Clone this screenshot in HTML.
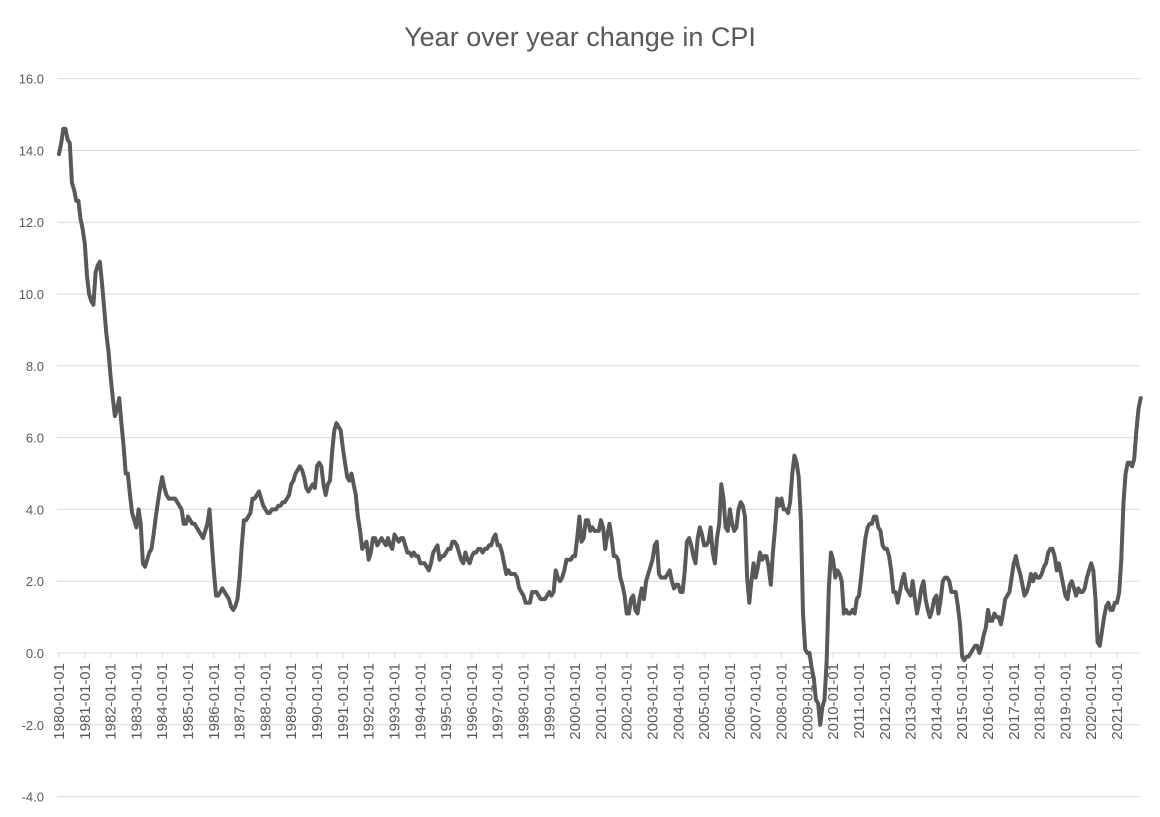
<!DOCTYPE html>
<html><head><meta charset="utf-8"><style>
body{margin:0;background:#fff;}
svg{display:block;font-family:"Liberation Sans",sans-serif;}
</style></head><body>
<svg id="chart" width="1160" height="817">
<text x="580" y="46" text-anchor="middle" font-size="27" fill="#595959">Year over year change in CPI</text>
<g id="grid"></g><g id="xl"></g>
</svg>
<script>
const yTicks=[16,14,12,10,8,6,4,2,0,-2,-4];
const startYear=1980;
const cpiYoY=[
13.9,14.2,14.6,14.6,14.3,14.2,13.1,12.9,12.6,12.6,12.1,11.8,
11.4,10.5,10.0,9.8,9.7,10.6,10.8,10.9,10.3,9.6,8.9,8.4,
7.7,7.1,6.6,6.8,7.1,6.4,5.8,5.0,5.0,4.4,3.9,3.7,
3.5,4.0,3.6,2.5,2.4,2.6,2.8,2.9,3.3,3.8,4.2,4.6,
4.9,4.6,4.4,4.3,4.3,4.3,4.3,4.2,4.1,4.0,3.6,3.6,
3.8,3.7,3.6,3.6,3.5,3.4,3.3,3.2,3.4,3.6,4.0,3.1,
2.3,1.6,1.6,1.7,1.8,1.7,1.6,1.5,1.3,1.2,1.3,1.5,
2.1,3.0,3.7,3.7,3.8,3.9,4.3,4.3,4.4,4.5,4.3,4.1,
4.0,3.9,3.9,4.0,4.0,4.0,4.1,4.1,4.2,4.2,4.3,4.4,
4.7,4.8,5.0,5.1,5.2,5.1,4.9,4.6,4.5,4.6,4.7,4.6,
5.2,5.3,5.2,4.7,4.4,4.7,4.8,5.6,6.2,6.4,6.3,6.2,
5.7,5.3,4.9,4.8,5.0,4.7,4.4,3.8,3.4,2.9,3.0,3.1,
2.6,2.8,3.2,3.2,3.0,3.1,3.2,3.1,3.0,3.2,3.0,2.9,
3.3,3.2,3.1,3.2,3.2,3.0,2.8,2.8,2.7,2.8,2.7,2.7,
2.5,2.5,2.5,2.4,2.3,2.5,2.8,2.9,3.0,2.6,2.7,2.7,
2.8,2.9,2.9,3.1,3.1,3.0,2.8,2.6,2.5,2.8,2.6,2.5,
2.7,2.8,2.8,2.9,2.9,2.8,2.9,2.9,3.0,3.0,3.2,3.3,
3.0,3.0,2.8,2.5,2.2,2.3,2.2,2.2,2.2,2.1,1.8,1.7,
1.6,1.4,1.4,1.4,1.7,1.7,1.7,1.6,1.5,1.5,1.5,1.6,
1.7,1.6,1.7,2.3,2.1,2.0,2.1,2.3,2.6,2.6,2.6,2.7,
2.7,3.2,3.8,3.1,3.2,3.7,3.7,3.4,3.5,3.4,3.4,3.4,
3.7,3.5,2.9,3.3,3.6,3.2,2.7,2.7,2.6,2.1,1.9,1.6,
1.1,1.1,1.5,1.6,1.2,1.1,1.5,1.8,1.5,2.0,2.2,2.4,
2.6,3.0,3.1,2.2,2.1,2.1,2.1,2.2,2.3,2.0,1.8,1.9,
1.9,1.7,1.7,2.3,3.1,3.2,3.0,2.7,2.5,3.2,3.5,3.3,
3.0,3.0,3.1,3.5,2.8,2.5,3.2,3.6,4.7,4.3,3.5,3.4,
4.0,3.6,3.4,3.5,4.0,4.2,4.1,3.8,2.1,1.4,2.0,2.5,
2.1,2.4,2.8,2.6,2.7,2.7,2.4,1.9,2.8,3.5,4.3,4.1,
4.3,4.0,4.0,3.9,4.2,5.0,5.5,5.3,4.9,3.7,1.1,0.1,
0.0,0.0,-0.4,-0.7,-1.3,-1.4,-2.0,-1.5,-1.3,-0.2,1.8,2.8,
2.6,2.1,2.3,2.2,2.0,1.1,1.2,1.1,1.1,1.2,1.1,1.5,
1.6,2.1,2.7,3.2,3.5,3.6,3.6,3.8,3.8,3.5,3.4,3.0,
2.9,2.9,2.7,2.3,1.7,1.7,1.4,1.7,2.0,2.2,1.8,1.7,
1.6,2.0,1.5,1.1,1.4,1.8,2.0,1.5,1.2,1.0,1.2,1.5,
1.6,1.1,1.5,2.0,2.1,2.1,2.0,1.7,1.7,1.7,1.3,0.8,
-0.1,-0.2,-0.1,-0.1,0.0,0.1,0.2,0.2,0.0,0.2,0.5,0.7,
1.2,0.9,0.9,1.1,1.0,1.0,0.8,1.1,1.5,1.6,1.7,2.1,
2.5,2.7,2.4,2.2,1.9,1.6,1.7,1.9,2.2,2.0,2.2,2.1,
2.1,2.2,2.4,2.5,2.8,2.9,2.9,2.7,2.3,2.5,2.2,1.9,
1.6,1.5,1.9,2.0,1.8,1.6,1.8,1.7,1.7,1.8,2.1,2.3,
2.5,2.3,1.5,0.3,0.2,0.6,1.0,1.3,1.4,1.2,1.2,1.4,
1.4,1.7,2.6,4.2,5.0,5.3,5.3,5.2,5.4,6.2,6.8,7.1];
const NS="http://www.w3.org/2000/svg";
const svg=document.getElementById('chart');
const grid=document.getElementById('grid'), xl=document.getElementById('xl');
function yS(v){return 653-v*35.9;}
function xS(i){return 59+i*(1058/492);}
yTicks.forEach(t=>{
 const l=document.createElementNS(NS,'line');
 l.setAttribute('x1',57);l.setAttribute('x2',1140);l.setAttribute('y1',yS(t));l.setAttribute('y2',yS(t));
 l.setAttribute('stroke','#d9d9d9');l.setAttribute('stroke-width','1');
 
 
 grid.appendChild(l);
 const tx=document.createElementNS(NS,'text');
 tx.setAttribute('x',44);tx.setAttribute('y',yS(t)+5);tx.setAttribute('text-anchor','end');
 tx.setAttribute('font-size','13');tx.setAttribute('fill','#595959');
 tx.textContent=t.toFixed(1);
 
 
 grid.appendChild(tx);
});
const years=Math.ceil(cpiYoY.length/12);
for(let y=0;y<years;y++){
 const x=xS(y*12);
 const tk=document.createElementNS(NS,'line');
 tk.setAttribute('x1',x);tk.setAttribute('x2',x);tk.setAttribute('y1',653);tk.setAttribute('y2',658);
 tk.setAttribute('stroke','#d9d9d9');
 
 
 xl.appendChild(tk);
 const tx=document.createElementNS(NS,'text');
 tx.setAttribute('transform','translate('+(x+5)+',663) rotate(-90)');
 tx.setAttribute('text-anchor','end');tx.setAttribute('font-size','15');tx.setAttribute('fill','#595959');
 tx.textContent=(startYear+y)+'-01-01';
 
 
 xl.appendChild(tx);
}
const p=document.createElementNS(NS,'polyline');
p.setAttribute('points',cpiYoY.map((v,i)=>xS(i).toFixed(1)+','+yS(v).toFixed(1)).join(' '));
p.setAttribute('fill','none');p.setAttribute('stroke','#595959');p.setAttribute('stroke-width','4');
p.setAttribute('stroke-linejoin','round');p.setAttribute('stroke-linecap','round');


svg.appendChild(p);
</script>
</body></html>
